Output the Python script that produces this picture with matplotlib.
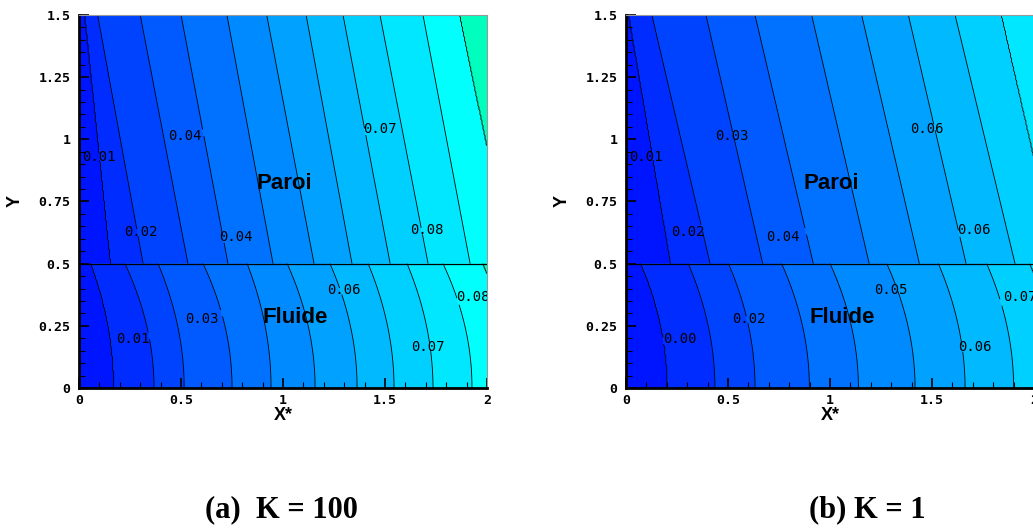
import numpy as np
import matplotlib
matplotlib.use("Agg")
import matplotlib.pyplot as plt
from matplotlib.colors import LinearSegmentedColormap, Normalize
from matplotlib.ticker import MultipleLocator


# Contour levels (one value per drawn line, left to right)

levels = [0.006, 0.014, 0.022, 0.030, 0.038, 0.046, 0.054, 0.062, 0.070, 0.078, 0.086]
band_edges = [-0.002] + levels + [0.094]


# (a) K = 100 : x position of each contour line, read at a few heights

a_paroi_y = [1.5, 0.5]
a_paroi_x = [
    [0.025, 0.090, 0.300, 0.500, 0.725, 0.920, 1.113, 1.294, 1.475, 1.686, 1.868],
    [0.152, 0.314, 0.534, 0.730, 0.951, 1.152, 1.338, 1.525, 1.711, 1.917, 2.120],
]
a_fluide_y = [0.5, 0.25, 0.0]
a_fluide_x = [
    [0.054, 0.225, 0.387, 0.608, 0.824, 1.020, 1.230, 1.417, 1.608, 1.784, 1.980],
    [0.139, 0.332, 0.483, 0.715, 0.912, 1.123, 1.330, 1.512, 1.703, 1.891, 2.085],
    [0.167, 0.368, 0.515, 0.750, 0.941, 1.157, 1.363, 1.544, 1.735, 1.926, 2.120],
]

# (b) K = 1

b_paroi_y = [1.5, 0.5]
b_paroi_x = [
    [0.010, 0.126, 0.392, 0.632, 0.910, 1.155, 1.384, 1.613, 1.842],
    [0.216, 0.412, 0.670, 0.918, 1.192, 1.438, 1.667, 1.907, 2.120],
]
b_fluide_y = [0.5, 0.25, 0.0]
b_fluide_x = [
    [0.069, 0.305, 0.502, 0.763, 1.000, 1.278, 1.531, 1.768, 1.980],
    [0.167, 0.403, 0.600, 0.865, 1.104, 1.382, 1.629, 1.867, 2.090],
    [0.199, 0.436, 0.632, 0.899, 1.139, 1.417, 1.662, 1.900, 2.130],
]

# Contour labels (first 6 in Paroi, last 5 in Fluide)

label_x = [0.096, 0.517, 1.475, 0.301, 0.767, 1.704, 0.262, 0.603, 1.299, 1.931, 1.708]
label_y = [0.929, 1.013, 1.042, 0.627, 0.607, 0.635, 0.196, 0.277, 0.394, 0.367, 0.166]
a_labels = ["0.01", "0.04", "0.07", "0.02", "0.04", "0.08", "0.01", "0.03", "0.06", "0.08", "0.07"]
b_labels = ["0.01", "0.03", "0.06", "0.02", "0.04", "0.06", "0.00", "0.02", "0.05", "0.07", "0.06"]

xticks = [0, 0.5, 1, 1.5, 2]
xtick_labels = ["0", "0.5", "1", "1.5", "2"]
yticks = [0, 0.25, 0.5, 0.75, 1, 1.25, 1.5]
ytick_labels = ["0", "0.25", "0.5", "0.75", "1", "1.25", "1.5"]

captions = ["(a)  K = 100", "(b) K = 1"]


# Colour map: blue -> cyan -> green

vmin, vcyan, vmax = -0.005, 0.082, 0.114
cmap = LinearSegmentedColormap.from_list(
    "tec",
    [(0.0, (0.0, 0.0, 1.0)),
     ((vcyan - vmin) / (vmax - vmin), (0.0, 1.0, 1.0)),
     (1.0, (0.0, 1.0, 0.0))]
)
norm = Normalize(vmin=vmin, vmax=vmax)


def zone_field(xg, yg, rows_y, rows_x, vals):
    rows_x = np.array(rows_x)
    deg = len(rows_y) - 1
    coef = [np.polyfit(rows_y, rows_x[:, k], deg) for k in range(rows_x.shape[1])]
    z = np.empty((len(yg), len(xg)))
    for i, yv in enumerate(yg):
        xs = [np.polyval(c, yv) for c in coef]
        z[i] = np.interp(xg, xs, vals, left=vals[0] - 0.004, right=vals[-1] + 0.004)
    return z


# Figure

fig = plt.figure(figsize=(10.33, 5.28), dpi=100)
ax_a = fig.add_axes([0.0765, 0.2652, 0.395, 0.7064])
ax_b = fig.add_axes([0.606, 0.2652, 0.395, 0.7064])

xg = np.linspace(0, 2, 401)
y_paroi = np.linspace(0.5, 1.5, 201)
y_fluide = np.linspace(0.0, 0.5, 101)

panels = [
    (ax_a, a_paroi_y, a_paroi_x, a_fluide_y, a_fluide_x, a_labels),
    (ax_b, b_paroi_y, b_paroi_x, b_fluide_y, b_fluide_x, b_labels),
]

for ax, py_, px_, fy_, fx_, labs in panels:

    sets = []
    for yg, rows_y, rows_x in [(y_paroi, py_, px_), (y_fluide, fy_, fx_)]:
        vals = levels[:len(rows_x[0])]
        z = zone_field(xg, yg, rows_y, rows_x, vals)
        ax.contourf(xg, yg, z, levels=band_edges, cmap=cmap, norm=norm)
        cs = ax.contour(xg, yg, z, levels=vals, colors="k", linewidths=0.6)
        sets.append(cs)

    # labels, Paroi then Fluide
    for cs, sl in [(sets[0], slice(0, 6)), (sets[1], slice(6, 11))]:
        pts = list(zip(label_x[sl], label_y[sl]))
        txts = ax.clabel(cs, manual=pts, inline=True, inline_spacing=-12,
                         fontsize=10, fmt="%.2f")
        for t, s, x, y in zip(txts, labs[sl], label_x[sl], label_y[sl]):
            t.set_text(s)
            t.set_position((x, y))
            t.set_rotation(0)
            t.set_fontfamily("DejaVu Sans Mono")
            t.set_clip_on(True)

    ax.axhline(0.5, color="k", lw=0.9)

    ax.text(1.005, 0.824, "Paroi", ha="center", va="center",
            fontsize=16, fontweight="bold", family="Liberation Sans")
    ax.text(1.059, 0.282, "Fluide", ha="center", va="center",
            fontsize=16, fontweight="bold", family="Liberation Sans")

    ax.set_xlim(0, 2)
    ax.set_ylim(0, 1.5)
    ax.set_xticks(xticks)
    ax.set_xticklabels(xtick_labels)
    ax.set_yticks(yticks)
    ax.set_yticklabels(ytick_labels)
    ax.xaxis.set_minor_locator(MultipleLocator(0.1))
    ax.yaxis.set_minor_locator(MultipleLocator(0.05))
    ax.tick_params(which="major", direction="in", length=7, width=1.2, pad=4)
    ax.tick_params(axis="y", which="major", pad=6)
    ax.tick_params(which="minor", direction="in", length=4, width=0.8)
    for lab in ax.get_xticklabels() + ax.get_yticklabels():
        lab.set_fontfamily("DejaVu Sans Mono")
        lab.set_fontweight("bold")
        lab.set_fontsize(9.5)

    for side in ["left", "bottom"]:
        ax.spines[side].set_linewidth(2)
        ax.spines[side].set_color("black")
    for side in ["top", "right"]:
        ax.spines[side].set_linewidth(0.8)
        ax.spines[side].set_color("#999999")

    ax.set_xlabel("X*", fontsize=13, fontweight="bold", family="Liberation Sans", labelpad=0.5)
    ax.set_ylabel("Y", fontsize=13, fontweight="bold", family="Liberation Sans", labelpad=11)

fig.text(281 / 1033, 0.034, captions[0], ha="center", va="center",
         fontsize=22, fontweight="bold", family="Liberation Serif")
fig.text(867 / 1033, 0.034, captions[1], ha="center", va="center",
         fontsize=22, fontweight="bold", family="Liberation Serif")

fig.savefig("out.png", dpi=100)
